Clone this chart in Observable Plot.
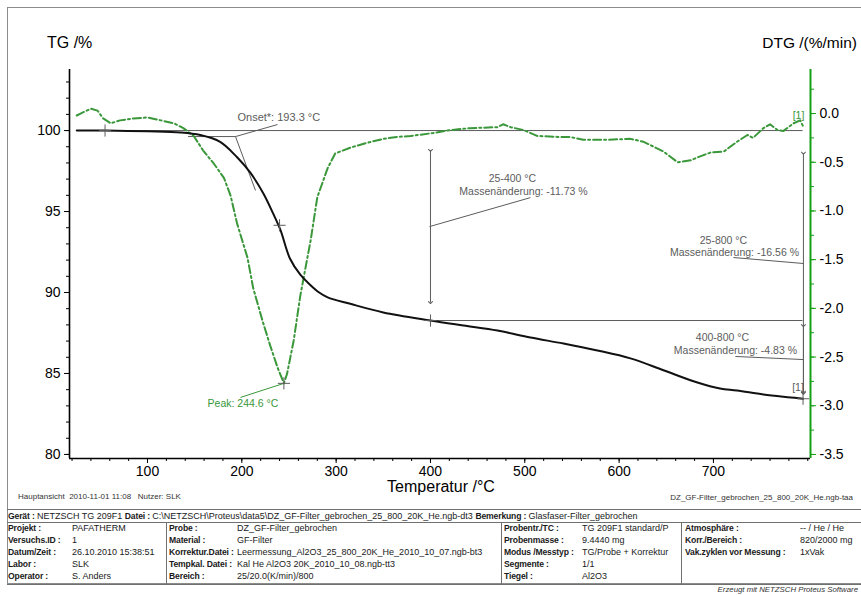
<!DOCTYPE html>
<html><head><meta charset="utf-8">
<script src="https://cdn.jsdelivr.net/npm/d3@7"></script>
<script src="https://cdn.jsdelivr.net/npm/@observablehq/plot@0.6"></script>
<style>
html,body{margin:0;padding:0;background:#fff;}
#wrap{position:relative;width:861px;height:595px;overflow:hidden;font-family:"Liberation Sans",Arial,sans-serif;color:#000;}
#chart{position:absolute;left:0;top:0;}
.abs{position:absolute;white-space:pre;line-height:1;}
#frame{position:absolute;left:7px;top:7px;width:900px;height:577px;border:1px solid #8c8c8c;box-sizing:border-box;pointer-events:none;}
.hl{position:absolute;height:1px;background:#707070;left:7px;width:900px;}
.vl{position:absolute;width:1px;background:#707070;}
.cell{position:absolute;white-space:pre;font-size:9px;line-height:1;color:#1a1a1a;}
.lab{font-weight:bold;font-size:8.6px;letter-spacing:-0.15px;}
</style></head><body>
<div id="wrap">
  <div id="chart"></div>
  <div id="frame"></div>
  <div id="texts"></div>
  <div id="table"></div>
</div>
<script>
// ---------- data ----------
const tgTemp = [25, 55, 100, 135, 156, 177, 195, 209, 223, 233, 241, 251, 262, 272, 282, 291, 315, 350, 400, 435, 471, 506, 541, 577, 612, 647, 683, 707, 725, 753, 782, 795];
const tgMass = [100.0, 100.0, 99.95, 99.88, 99.72, 99.3, 98.35, 97.4, 96.1, 94.9, 93.85, 92.1, 91.1, 90.5, 90.0, 89.7, 89.3, 88.77, 88.27, 87.96, 87.65, 87.22, 86.85, 86.42, 85.93, 85.2, 84.44, 84.07, 83.95, 83.7, 83.52, 83.44];

const dtgTemp = [25, 29, 40, 47, 53, 61, 71, 85, 100, 114, 128, 138, 149, 159, 170, 181, 188, 195, 206, 212, 222, 230, 238, 244.6, 248, 255, 262, 267, 273, 280, 291, 299, 315, 333, 350, 365, 379, 403, 421, 442, 471, 477, 485, 499, 513, 535, 548, 562, 583, 612, 626, 647, 662, 676, 683, 697, 711, 725, 736, 742, 753, 760, 768, 774, 785, 792, 795];
const dtgRate = [-0.02, 0.0, 0.05, 0.03, -0.05, -0.10, -0.07, -0.05, -0.04, -0.07, -0.10, -0.15, -0.23, -0.38, -0.51, -0.66, -0.84, -1.13, -1.48, -1.79, -2.13, -2.38, -2.61, -2.77, -2.67, -2.33, -1.87, -1.61, -1.30, -0.86, -0.56, -0.41, -0.35, -0.30, -0.26, -0.24, -0.23, -0.20, -0.17, -0.15, -0.14, -0.11, -0.14, -0.17, -0.23, -0.24, -0.24, -0.27, -0.27, -0.26, -0.29, -0.39, -0.50, -0.48, -0.45, -0.40, -0.39, -0.29, -0.22, -0.25, -0.15, -0.11, -0.17, -0.18, -0.10, -0.07, -0.13];

const xTicks = [100, 200, 300, 400, 500, 600, 700];
const xMinor = d3.range(20, 801, 20);
const tgTicks = [80, 85, 90, 95, 100];
const tgMinor = d3.range(80, 104, 1);
const dtgTicks = [0, -0.5, -1, -1.5, -2, -2.5, -3, -3.5];
const dtgMinor = d3.range(-3.5, 0.5, 0.25);

// reference / step lines (grey)
const baseMass = [100, 88.27];
const baseFrom = [25, 400];
const baseTo = [795, 795];

// leader and construction lines (grey)
const leadT1  = [143, 193.3, 193.3, 399, 795.4, 795.4];
const leadTG1 = [99.63, 99.63, 99.63, 94.07, 91.79, 85.86];
const leadT2  = [193.3, 237.8, 214.5, 506, 721.2, 723.3];
const leadTG2 = [99.63, 100.37, 96.3, 95.86, 92.16, 86.05];

// double arrows (mass change)
const arrowT = [400, 795.4, 795.4];
const arrowTop = [98.77, 98.6, 87.96];
const arrowBottom = [89.38, 83.77, 83.85];

// "+" markers on TG
const crossT = [55, 240, 400, 795];
const crossTG = [100, 94.15, 88.27, 83.44];

// peak
const peakT = [244.6];
const peakRate = [-2.77];
const peakLeadT = [198.6];
const peakLeadTG = [83.52];

// annotations
const onsetText = ["Onset*: 193.3 °C"];
const onsetT = [195.4];
const onsetTG = [100.8];
const noteText = ["25-400 °C", "Massenänderung: -11.73 %", "25-800 °C", "Massenänderung: -16.56 %", "400-800 °C", "Massenänderung: -4.83 %", "[1]"];
const noteT  = [486.9, 498.6, 710.6, 722.3, 709.5, 723.3, 789.7];
const noteTG = [97.04, 96.23, 93.21, 92.47, 87.22, 86.42, 84.14];
const greenNoteText = ["Peak: 244.6 °C", "[1]"];
const greenNoteT = [201.2, 790.2];
const greenNoteTG = [83.15, 100.93];

// table
const headerText = "Gerät :|NETZSCH TG 209F1|Datei :|C:\\NETZSCH\\Proteus\\data5\\DZ_GF-Filter_gebrochen_25_800_20K_He.ngb-dt3|Bemerkung :|Glasfaser-Filter_gebrochen";
const col1Labels = ["Projekt :", "Versuchs.ID :", "Datum/Zeit :", "Labor :", "Operator :"];
const col1Values = ["PAFATHERM", "1", "26.10.2010 15:38:51", "SLK", "S. Anders"];
const col2Labels = ["Probe :", "Material :", "Korrektur.Datei :", "Tempkal. Datei :", "Bereich :"];
const col2Values = ["DZ_GF-Filter_gebrochen", "GF-Filter", "Leermessung_Al2O3_25_800_20K_He_2010_10_07.ngb-bt3", "Kal He Al2O3 20K_2010_10_08.ngb-tt3", "25/20.0(K/min)/800"];
const col3Labels = ["Probentr./TC :", "Probenmasse :", "Modus /Messtyp :", "Segmente :", "Tiegel :"];
const col3Values = ["TG 209F1 standard/P", "9.4440 mg", "TG/Probe + Korrektur", "1/1", "Al2O3"];
const col4Labels = ["Atmosphäre :", "Korr./Bereich :", "Vak.zyklen vor Messung :"];
const col4Values = ["-- / He / He", "820/2000 mg", "1xVak"];

// ---------- scales ----------
const xDomain = [17.3, 802.9];
const yDomain = [79.75, 103.77];
const DTG_ZERO_TG = 101.05;
const TG_PER_DTG = 21.05 / 3.5;
const toTG = v => DTG_ZERO_TG + TG_PER_DTG * v;
const fromTG = t => (t - DTG_ZERO_TG) / TG_PER_DTG;
const fmtDTG = d => { const r = Math.round(fromTG(d) * 10) / 10; return (r === 0 ? 0 : r).toFixed(1); };

const green = "#3a973a", axisGreen = "#14a014", grey = "#5c5c5c";
const FONT = "Liberation Sans, Arial, sans-serif";

const chart = Plot.plot({
  width: 861, height: 500,
  marginLeft: 69, marginRight: 51, marginTop: 69, marginBottom: 42,
  x: {domain: xDomain},
  y: {domain: yDomain},
  style: {fontFamily: FONT, background: "transparent", color: "#000"},
  marks: [
    Plot.axisX(xMinor, {tickSize: 3, tickFormat: () => "", label: null}),
    Plot.axisX(xTicks, {tickSize: 5, tickPadding: 3, fontSize: 14, tickFormat: d => String(d), label: null}),
    Plot.axisY(tgMinor, {anchor: "left", tickSize: 3, tickFormat: () => "", label: null}),
    Plot.axisY(tgTicks, {anchor: "left", tickSize: 5, tickPadding: 4, fontSize: 14, tickFormat: d => String(d), label: null}),
    Plot.axisY(dtgMinor.map(toTG), {anchor: "right", tickSize: 3, tickFormat: () => "", stroke: axisGreen, label: null}),
    Plot.axisY(dtgTicks.map(toTG), {anchor: "right", tickSize: 5, tickPadding: 4, fontSize: 14, stroke: axisGreen, fill: "#000", tickFormat: fmtDTG, label: null}),
    Plot.ruleX([xDomain[0]], {stroke: "#000", strokeWidth: 1.6}),
    Plot.ruleY([yDomain[0]], {stroke: "#000", strokeWidth: 1.6}),
    Plot.ruleX([xDomain[1]], {stroke: axisGreen, strokeWidth: 2}),
    Plot.ruleY(baseMass, {x1: baseFrom, x2: baseTo, stroke: grey, strokeWidth: 1}),
    Plot.link(leadT1, {x1: leadT1, y1: leadTG1, x2: leadT2, y2: leadTG2, stroke: grey, strokeWidth: 1}),
    Plot.link(arrowT, {x1: arrowT, y1: arrowTop, x2: arrowT, y2: arrowBottom, stroke: grey, strokeWidth: 1, markerStart: "arrow", markerEnd: "arrow"}),
    Plot.line(dtgTemp, {x: dtgTemp, y: dtgRate.map(toTG), stroke: green, strokeWidth: 2, strokeDasharray: "8,3,2,3"}),
    Plot.line(tgTemp, {x: tgTemp, y: tgMass, stroke: "#111", strokeWidth: 2, curve: "catmull-rom"}),
    Plot.link(peakT, {x1: peakLeadT, y1: peakLeadTG, x2: peakT, y2: peakRate.map(toTG), stroke: green, strokeWidth: 1}),
    Plot.dot(crossT, {x: crossT, y: crossTG, symbol: "plus", r: 4, stroke: grey, strokeWidth: 1}),
    Plot.dot(peakT, {x: peakT, y: peakRate.map(toTG), symbol: "plus", r: 4, stroke: grey, strokeWidth: 1}),
    Plot.text(onsetText, {x: onsetT, y: onsetTG, text: d => d, textAnchor: "start", fontSize: 11, fill: grey}),
    Plot.text(noteText, {x: noteT, y: noteTG, text: d => d, fontSize: 10.5, fill: grey}),
    Plot.text(greenNoteText, {x: greenNoteT, y: greenNoteTG, text: d => d, fontSize: 10.5, fill: green})
  ]
});
document.getElementById("chart").appendChild(chart);

// ---------- overlay texts ----------
const texts = document.getElementById("texts");
function addText(str, css) {
  const d = document.createElement("div");
  d.className = "abs";
  d.textContent = str;
  Object.assign(d.style, css);
  texts.appendChild(d);
  return d;
}
addText("TG /%", {left: "47px", top: "35px", fontSize: "16px"});
addText("DTG /(%/min)", {right: "4px", top: "35px", fontSize: "15.5px"});
addText("Temperatur /°C", {left: "441px", top: "479px", fontSize: "16px", transform: "translateX(-50%)"});
addText("Hauptansicht  2010-11-01 11:08   Nutzer: SLK", {left: "18px", top: "493px", fontSize: "8px", color: "#333"});
addText("DZ_GF-Filter_gebrochen_25_800_20K_He.ngb-taa", {right: "8px", top: "494px", fontSize: "8px", color: "#333"});
addText("Erzeugt mit NETZSCH Proteus Software", {right: "3px", top: "586px", fontSize: "7.8px", fontStyle: "italic", color: "#333"});

// ---------- table ----------
const table = document.getElementById("table");
function el(cls, css, txt) {
  const d = document.createElement("div");
  d.className = cls;
  Object.assign(d.style, css);
  if (txt !== undefined) d.textContent = txt;
  table.appendChild(d);
  return d;
}
const tTop = 509, tMid = 522, tBot = 584, rowH = 12;
el("hl", {top: tTop + "px"});
el("hl", {top: tMid + "px"});
el("hl", {top: tBot + "px"});
[166, 501, 681].forEach(x => el("vl", {left: x + "px", top: tMid + "px", height: (tBot - tMid) + "px"}));

// header row
const hdr = el("cell", {left: "8px", top: (tTop + 3) + "px"});
headerText.split("|").forEach((s, i) => {
  const sp = document.createElement("span");
  sp.textContent = s + " ";
  if (i % 2 === 0) sp.className = "lab";
  hdr.appendChild(sp);
});

function column(labels, values, lx, vx) {
  labels.forEach((l, i) => {
    const top = (tMid + 2 + i * rowH) + "px";
    el("cell lab", {left: lx + "px", top}, l);
    el("cell", {left: vx + "px", top}, values[i]);
  });
}
column(col1Labels, col1Values, 8, 72);
column(col2Labels, col2Values, 169, 237);
column(col3Labels, col3Values, 504, 582);
column(col4Labels, col4Values, 685, 800);
</script>
</body></html>
